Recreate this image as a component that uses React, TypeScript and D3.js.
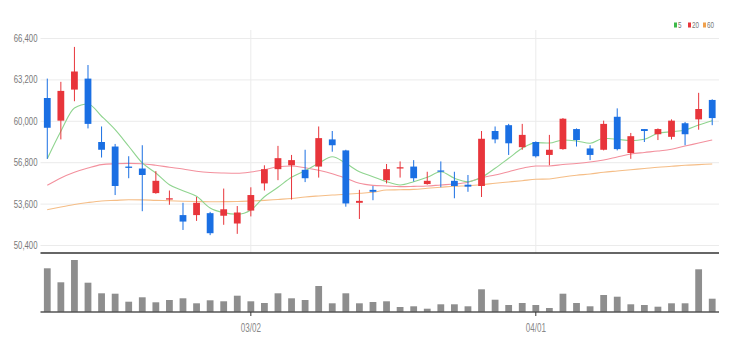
import React from "react";
import * as d3 from "d3";

const dates = [
  "02/08","02/09","02/10","02/11","02/14","02/15","02/16","02/17","02/18","02/21",
  "02/22","02/23","02/24","02/25","02/28","03/02","03/03","03/04","03/07","03/08",
  "03/10","03/11","03/14","03/15","03/16","03/17","03/18","03/21","03/22","03/23",
  "03/24","03/25","03/28","03/29","03/30","03/31","04/01","04/04","04/05","04/06",
  "04/07","04/08","04/11","04/12","04/13","04/14","04/15","04/18","04/19","04/20",
];
const openP = [61800,60050,62450,63300,58400,58050,56500,56350,54450,53950,52750,52750,52900,52700,52100,53100,55200,56300,56600,56250,56500,58600,57750,53700,54700,55450,56350,56500,55150,56200,55400,55100,55000,59250,59700,58000,58400,57400,57850,59400,57900,57800,60350,57550,59400,59000,58800,59850,60150,61650];
const highP = [63300,63050,65750,64350,59600,58250,57300,58150,56150,54650,53700,54150,53000,54800,53450,54900,56600,58100,57400,57800,59600,59250,57800,54700,55000,56700,56900,57000,56100,56900,56100,55850,59250,59600,59800,59800,58450,58950,60250,59450,58150,60050,61000,59100,59400,59450,60150,59950,62200,61700];
const lowP = [57100,58600,61550,59450,57200,54300,55600,53050,54400,53550,51600,52300,51200,52000,51300,52650,54650,55450,53950,55300,55650,57650,53400,52450,53900,55200,55650,55350,55100,54900,54050,54550,54150,58300,57400,57800,57200,56600,57800,58050,57000,57750,57750,57100,58400,58550,58600,58150,59350,59700];
const closeP = [59500,62350,63850,59800,57800,55000,56400,55850,55400,54050,52250,53700,51350,53200,52950,54300,56300,57150,57000,55600,58700,58150,53650,53850,54550,56300,56450,55600,55400,56100,55000,54950,58650,58600,58300,58950,57300,57800,60200,58550,57400,59800,57850,58850,59250,59400,60050,59000,60950,60250];
const volume = [437,297,520,293,187,183,103,147,97,120,137,87,117,107,163,107,90,187,137,120,260,87,187,87,100,107,50,57,33,77,77,57,227,123,70,90,70,40,183,90,57,170,153,77,70,53,87,87,427,133];
const ma5 = [57110,59230,61030,61340,60390,59350,58070,56780,56000,55100,54640,54200,53300,52940,52810,53140,54170,54900,55670,56180,56750,57260,56750,56100,55720,55330,55080,55330,55670,56100,55600,55330,55670,56370,57140,57910,58350,58320,58560,58480,58300,58690,58610,58500,58610,59070,59200,59330,59710,60050];
const ma20 = [55050,55620,56060,56390,56650,56720,56750,56720,56600,56450,56310,56140,56040,56000,55980,56080,56260,56490,56550,56410,56210,55950,55600,55210,55050,55000,54950,54970,55000,55080,55150,55290,55640,55850,56100,56370,56550,56550,56660,56740,56850,57010,57240,57470,57590,57700,57840,58090,58320,58560];
const ma60 = [53170,53380,53570,53720,53840,53890,53940,53930,53890,53860,53820,53800,53780,53790,53800,53840,53890,53960,54030,54150,54230,54300,54360,54440,54510,54690,54710,54740,54820,54900,54980,55020,55100,55210,55310,55410,55520,55540,55700,55830,55930,56060,56160,56260,56350,56450,56520,56600,56650,56700];
const priceTicks = [50400, 53600, 56800, 60000, 63200, 66400];
const dateTicks = ["03/02", "04/01"];
const legendLabels = ["5", "20", "60"];

const UP = "#e8353b";
const DOWN = "#1a6fe3";
const MA_COLORS = ["#8fd48f", "#f3909d", "#f5bd86"];
const LEGEND_COLORS = ["#3cb94a", "#e8353b", "#f0a04b"];
const FONT = "'Liberation Sans', Arial, sans-serif";

export default function App() {
  const W = 735, H = 351;
  const left = 40.5, right = 719;
  const x = d3.scaleBand<string>().domain(dates).range([left, right]).paddingInner(0.5).paddingOuter(0.25);
  const bw = x.bandwidth();
  const cx = (d: string) => (x(d) as number) + bw / 2;
  const y = d3.scaleLinear().domain([50400, 66400]).range([245.5, 38.5]);
  const yv = d3.scaleLinear().domain([0, 570]).range([312, 255]);
  const fmt = d3.format(",");

  const line = (vals: number[]) =>
    d3.line<number>().x((_, i) => cx(dates[i])).y((v) => y(v)).curve(d3.curveMonotoneX)(vals) || "";

  return (
    <svg width={W} height={H} style={{ position: "absolute", left: 0, top: 0, background: "#fff" }}>
      {/* grid */}
      {priceTicks.map((t) => (
        <line key={t} x1={left} x2={right} y1={y(t)} y2={y(t)} stroke="#ebebeb" strokeWidth={1} />
      ))}
      {dateTicks.map((d) => (
        <line key={d} x1={cx(d)} x2={cx(d)} y1={30} y2={253} stroke="#ebebeb" strokeWidth={1} />
      ))}
      {/* y labels */}
      {priceTicks.map((t) => (
        <text key={t} transform={`translate(37.5,${y(t) + 3.5}) scale(0.74,1)`} textAnchor="end"
          fontFamily={FONT} fontSize={10.5} fill="#777">{fmt(t)}</text>
      ))}
      {/* MA lines */}
      {[ma60, ma20, ma5].map((vals, k) => (
        <path key={k} d={line(vals)} fill="none" stroke={MA_COLORS[2 - k]} strokeWidth={1.1} />
      ))}
      {/* candles */}
      {dates.map((d, i) => {
        const o = openP[i], c = closeP[i];
        const col = c >= o ? UP : DOWN;
        const top = y(Math.max(o, c));
        const h = Math.max(1.2, y(Math.min(o, c)) - top);
        return (
          <g key={d}>
            <line x1={cx(d)} x2={cx(d)} y1={y(highP[i])} y2={y(lowP[i])} stroke={col} strokeWidth={1} />
            <rect x={x(d)} y={top} width={bw} height={h} fill={col} />
          </g>
        );
      })}
      {/* divider */}
      <line x1={left} x2={right} y1={253} y2={253} stroke="#333" strokeWidth={1.5} />
      {/* volume */}
      {dates.map((d, i) => (
        <rect key={d} x={x(d)} y={yv(volume[i])} width={bw} height={yv(0) - yv(volume[i])} fill="#8e8e8e" />
      ))}
      <line x1={left} x2={right} y1={312} y2={312} stroke="#555" strokeWidth={1.5} />
      {dateTicks.map((d) => (
        <g key={d}>
          <line x1={cx(d)} x2={cx(d)} y1={312} y2={316} stroke="#333" strokeWidth={1} />
          <text transform={`translate(${cx(d)},332) scale(0.62,1)`} textAnchor="middle"
            fontFamily={FONT} fontSize={13} fill="#888">{d}</text>
        </g>
      ))}
      {/* legend */}
      {legendLabels.map((l, k) => {
        const lx = [674, 688, 703][k];
        return (
          <g key={l}>
            <rect x={lx} y={22.5} width={3} height={5} fill={LEGEND_COLORS[k]} />
            <text transform={`translate(${lx + 4},28) scale(0.7,1)`} fontFamily={FONT} fontSize={9} fill="#777">{l}</text>
          </g>
        );
      })}
    </svg>
  );
}
